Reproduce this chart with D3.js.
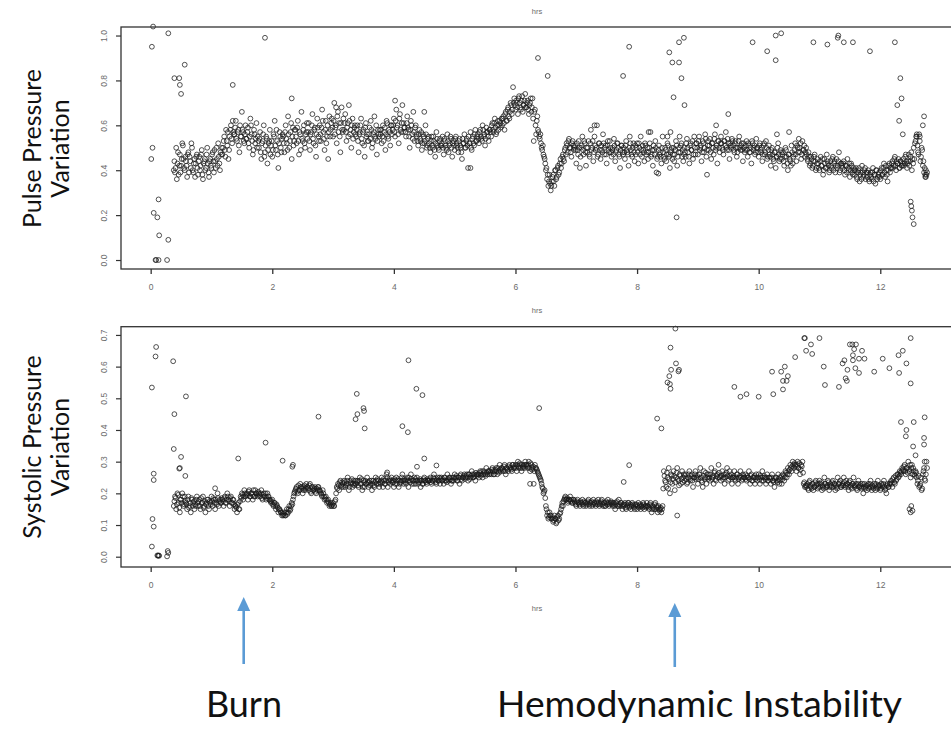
<!DOCTYPE html>
<html><head><meta charset="utf-8">
<script src="https://cdn.jsdelivr.net/npm/d3@7"></script>
<style>body{margin:0;background:#fff}svg{display:block}</style>
</head><body><svg id="c" width="951" height="736"></svg>
<script>
// ---------- data ----------
const xTickVals = [0, 2, 4, 6, 8, 10, 12];
const ppvTickVals = [0, 0.2, 0.4, 0.6, 0.8, 1.0];
const spvTickVals = [0, 0.1, 0.2, 0.3, 0.4, 0.5, 0.6, 0.7];
const sampleStep = 0.02; // hrs between consecutive samples inside a row

// Pulse pressure variation: [start hr, consecutive samples]
const ppvRows = [
[0.38,[.40,.39,.50,.43,.38,.47,.42,.52,.45,.40]],
[0.58,[.44,.37,.48,.46,.41,.50,.39,.45,.43,.47]],
[0.78,[.38,.46,.42,.49,.36,.44,.40,.47,.43,.37]],
[0.98,[.45,.41,.48,.39,.44,.50,.42,.46,.40,.47]],
[1.18,[.47,.53,.49,.58,.51,.45,.55,.60,.52,.57]],
[1.38,[.56,.62,.53,.58,.48,.55,.66,.57,.52,.60]],
[1.58,[.54,.59,.50,.63,.56,.47,.58,.52,.61,.55]],
[1.78,[.50,.57,.45,.53,.60,.48,.55,.43,.52,.58]],
[1.98,[.51,.46,.56,.62,.49,.53,.41,.57,.50,.54]],
[2.18,[.55,.48,.60,.52,.64,.50,.57,.45,.59,.53]],
[2.38,[.58,.52,.62,.47,.56,.66,.53,.60,.50,.57]],
[2.58,[.54,.61,.49,.57,.65,.52,.59,.46,.63,.55]],
[2.78,[.60,.53,.67,.57,.49,.62,.55,.45,.64,.58]],
[2.98,[.63,.55,.70,.59,.52,.66,.61,.48,.68,.57]],
[3.18,[.58,.65,.53,.61,.69,.56,.50,.63,.57,.60]],
[3.38,[.55,.60,.48,.57,.63,.52,.58,.46,.61,.56]],
[3.58,[.53,.59,.62,.50,.56,.64,.54,.47,.58,.55]],
[3.78,[.56,.52,.60,.57,.49,.62,.55,.58,.51,.60]],
[3.98,[.58,.63,.55,.67,.60,.52,.65,.57,.69,.61]],
[4.18,[.59,.55,.64,.58,.50,.62,.56,.66,.53,.60]],
[4.38,[.55,.51,.58,.53,.49,.56,.52,.60,.50,.54]],
[4.58,[.52,.48,.55,.50,.53,.46,.57,.51,.49,.54]],
[4.78,[.51,.55,.47,.53,.50,.56,.48,.52,.54,.46]],
[4.98,[.53,.49,.55,.51,.48,.54,.50,.45,.52,.56]],
[5.18,[.50,.54,.41,.52,.57,.49,.55,.51,.58,.53]],
[5.38,[.56,.52,.58,.54,.60,.55,.51,.59,.57,.53]],
[5.58,[.58,.55,.61,.57,.63,.56,.60,.58,.62,.59]],
[5.78,[.60,.64,.58,.66,.62,.68,.63,.70,.65,.77]],
[5.98,[.72,.67,.70,.65,.73,.68,.71,.66,.69,.74]],
[6.18,[.68,.71,.65,.70,.66,.72,.53,.67,.56,.64]],
[6.38,[.57,.54,.52,.49,.47,.45,.40,.36,.33,.38]],
[6.58,[.31,.35,.38,.33,.40,.37,.42,.39,.45,.43]],
[6.78,[.47,.44,.50,.52,.48,.54,.50,.46,.53,.49]],
[6.98,[.51,.43,.49,.53,.41,.50,.55,.47,.52,.42]],
[7.18,[.48,.53,.46,.58,.50,.44,.55,.49,.60,.47]],
[7.38,[.52,.45,.49,.56,.47,.51,.43,.53,.48,.50]],
[7.58,[.46,.50,.54,.44,.49,.52,.47,.41,.51,.48]],
[7.78,[.50,.45,.53,.48,.42,.55,.49,.46,.52,.44]],
[7.98,[.47,.52,.43,.50,.55,.46,.49,.44,.51,.48]],
[8.18,[.45,.50,.57,.47,.42,.49,.53,.39,.46,.51]],
[8.38,[.48,.43,.55,.46,.50,.44,.52,.47,.41,.49]],
[8.58,[.45,.50,.47,.53,.42,.48,.55,.51,.46,.44]],
[8.78,[.50,.46,.54,.48,.43,.52,.49,.45,.55,.47]],
[8.98,[.52,.47,.55,.50,.44,.53,.48,.56,.46,.51]],
[9.18,[.49,.54,.45,.52,.47,.56,.50,.43,.53,.48]],
[9.38,[.55,.50,.47,.53,.57,.49,.52,.45,.51,.54]],
[9.58,[.51,.48,.53,.46,.50,.55,.49,.52,.44,.50]],
[9.78,[.49,.53,.46,.51,.48,.43,.52,.50,.47,.54]],
[9.98,[.50,.46,.52,.48,.44,.51,.47,.53,.45,.49]],
[10.18,[.47,.42,.50,.45,.48,.41,.46,.52,.44,.49]],
[10.38,[.45,.48,.42,.50,.46,.40,.47,.44,.51,.43]],
[10.58,[.47,.52,.44,.50,.54,.48,.45,.53,.49,.46]],
[10.78,[.50,.45,.48,.42,.46,.41,.44,.47,.40,.43]],
[10.98,[.43,.40,.46,.42,.38,.45,.41,.47,.43,.39]],
[11.18,[.44,.41,.46,.43,.39,.45,.42,.48,.40,.43]],
[11.38,[.41,.44,.38,.42,.45,.40,.37,.43,.39,.41]],
[11.58,[.38,.41,.36,.40,.35,.39,.42,.37,.40,.36]],
[11.78,[.37,.40,.35,.39,.36,.41,.38,.34,.40,.37]],
[11.98,[.39,.36,.41,.38,.43,.37,.40,.35,.42,.39]],
[12.18,[.41,.44,.42,.46,.40,.43,.45,.41,.44,.42]],
[12.38,[.45,.43,.47,.41,.44,.42,.46,.40,.43,.45]],
[12.58,[.53,.55,.48,.56,.44,.50,.42,.39,.37,.38]],
// interleaved samples
[0.39,[.44,.41,.36,.48,.42,.39,.45,.51,.41,.46]],
[0.59,[.42,.47,.39,.44,.52,.40,.43,.37,.46,.41]],
[0.79,[.44,.40,.47,.38,.43,.45,.41,.50,.39,.44]],
[0.99,[.42,.47,.44,.49,.41,.45,.52,.43,.48,.50]],
[1.19,[.50,.55,.46,.53,.57,.49,.58,.54,.62,.56]],
[1.39,[.59,.54,.57,.51,.60,.55,.58,.53,.56,.54]],
[1.59,[.57,.52,.55,.60,.53,.49,.56,.54,.50,.53]],
[1.79,[.54,.48,.52,.56,.46,.51,.54,.49,.53,.47]],
[1.99,[.53,.49,.55,.51,.58,.47,.52,.55,.48,.56]],
[2.19,[.52,.57,.54,.49,.56,.53,.61,.55,.51,.58]],
[2.39,[.55,.59,.53,.57,.49,.54,.58,.52,.56,.61]],
[2.59,[.57,.53,.56,.60,.54,.58,.51,.56,.59,.53]],
[2.79,[.56,.59,.62,.54,.58,.52,.60,.57,.55,.61]],
[2.99,[.59,.62,.56,.60,.64,.57,.55,.61,.58,.63]],
[3.19,[.61,.57,.59,.55,.62,.58,.60,.54,.59,.56]],
[3.39,[.58,.53,.56,.60,.54,.57,.51,.59,.55,.53]],
[3.59,[.56,.54,.58,.52,.57,.55,.60,.53,.56,.58]],
[3.79,[.58,.55,.53,.59,.56,.61,.54,.57,.60,.56]],
[3.99,[.60,.57,.62,.59,.56,.63,.58,.61,.57,.59]],
[4.19,[.57,.61,.59,.55,.58,.60,.54,.57,.59,.56]],
[4.39,[.53,.56,.54,.57,.52,.55,.53,.56,.51,.55]],
[4.59,[.50,.53,.51,.55,.49,.52,.54,.50,.53,.51]],
[4.79,[.52,.50,.54,.51,.49,.53,.51,.55,.50,.52]],
[4.99,[.51,.54,.52,.50,.53,.51,.48,.54,.52,.50]],
[5.19,[.53,.51,.55,.52,.50,.54,.52,.56,.53,.55]],
[5.39,[.54,.57,.55,.53,.58,.56,.54,.57,.55,.58]],
[5.59,[.57,.60,.58,.61,.59,.57,.62,.60,.61,.63]],
[5.79,[.63,.61,.65,.62,.67,.64,.66,.69,.67,.70]],
[5.99,[.69,.71,.68,.72,.70,.67,.73,.69,.71,.68]],
[6.19,[.70,.67,.69,.72,.68,.63,.66,.60,.62,.58]],
[6.39,[.55,.56,.50,.51,.46,.43,.41,.38,.35,.34]],
[6.59,[.33,.37,.35,.40,.36,.41,.38,.43,.41,.46]],
[6.79,[.45,.49,.47,.51,.53,.50,.48,.52,.51,.50]],
[6.99,[.49,.52,.47,.50,.46,.51,.49,.53,.48,.50]],
[7.19,[.50,.47,.52,.49,.53,.48,.51,.50,.46,.52]],
[7.39,[.49,.51,.48,.52,.50,.47,.51,.49,.53,.48]],
[7.59,[.49,.47,.51,.48,.52,.50,.46,.49,.51,.47]],
[7.79,[.48,.51,.49,.47,.50,.52,.47,.50,.48,.51]],
[7.99,[.50,.48,.52,.47,.49,.51,.48,.52,.47,.50]],
[8.19,[.48,.52,.46,.49,.51,.47,.50,.45,.49,.47]],
[8.39,[.46,.50,.48,.45,.49,.47,.51,.46,.48,.50]],
[8.59,[.47,.44,.49,.51,.46,.50,.48,.52,.49,.47]],
[8.79,[.48,.52,.50,.46,.51,.49,.53,.47,.50,.52]],
[8.99,[.50,.53,.49,.51,.48,.52,.50,.54,.49,.53]],
[9.19,[.51,.48,.52,.50,.54,.49,.51,.53,.50,.52]],
[9.39,[.52,.49,.53,.51,.50,.54,.49,.52,.50,.53]],
[9.59,[.49,.52,.50,.48,.53,.50,.51,.49,.52,.48]],
[9.79,[.51,.49,.52,.48,.50,.53,.49,.51,.48,.50]],
[9.99,[.48,.51,.49,.50,.47,.52,.48,.50,.46,.51]],
[10.19,[.46,.49,.47,.44,.48,.46,.50,.47,.45,.48]],
[10.39,[.47,.44,.46,.49,.43,.47,.45,.42,.48,.46]],
[10.59,[.49,.47,.51,.48,.50,.52,.47,.49,.51,.48]],
[10.79,[.47,.44,.46,.43,.45,.42,.46,.44,.41,.45]],
[10.99,[.41,.44,.42,.45,.40,.43,.41,.44,.42,.40]],
[11.19,[.42,.45,.40,.44,.42,.41,.44,.39,.43,.42]],
[11.39,[.43,.40,.42,.39,.41,.43,.40,.42,.38,.40]],
[11.59,[.40,.37,.39,.41,.38,.36,.39,.38,.41,.39]],
[11.79,[.39,.36,.38,.37,.39,.35,.38,.40,.36,.38]],
[11.99,[.37,.40,.38,.41,.39,.42,.38,.40,.43,.41]],
[12.19,[.43,.41,.45,.42,.44,.43,.41,.44,.42,.43]],
[12.39,[.42,.46,.44,.43,.47,.44,.48,.45,.50,.52]],
[12.59,[.55,.51,.47,.53,.46,.49,.44,.41,.40,.39]]
];
// isolated PPV readings [hr, value]
const ppvOutliers = [
[0.02,.95],[0.04,1.04],[0.29,1.01],[0.03,.50],[0.01,.45],[0.05,.21],[0.13,.27],[0.11,.19],
[0.14,.11],[0.08,0],[0.09,0],[0.13,0],[0.27,0],[0.29,.09],[0.39,.81],[0.47,.81],[0.48,.78],
[0.50,.74],[0.56,.87],[1.35,.78],[1.88,.99],[2.32,.72],[3.05,.68],[4.02,.71],[4.5,.66],[5.26,.41],
[6.37,.90],[6.53,.82],[7.3,.60],[7.77,.82],[7.87,.95],[8.19,.57],[8.35,.385],
[8.53,.925],[8.58,.88],[8.6,.725],[8.69,.88],[8.73,.81],[8.69,.97],[8.77,.99],[8.78,.69],[8.65,.19],
[8.5,.55],[8.55,.57],[9.15,.38],[9.3,.60],[9.5,.65],[10.3,.56],[10.5,.57],
[9.9,.97],[10.14,.93],[10.28,1.0],[10.37,1.01],[10.28,.89],[10.9,.97],[11.13,.96],[11.3,.99],
[11.31,1.0],[11.4,.97],[11.55,.97],[11.83,.93],[12.24,.97],
[12.33,.81],[12.35,.72],[12.28,.69],[12.31,.62],[12.37,.56],[12.5,.26],[12.52,.22],[12.53,.19],
[12.55,.16],[12.51,.24],[12.72,.64],[12.70,.60],[12.6,.56],[12.65,.55],[12.74,.38],[12.75,.37]
];

// Systolic pressure variation: [start hr, consecutive samples]
const spvRows = [
[0.38,[.16,.19,.15,.20,.17,.14,.18,.20,.16,.19]],
[0.58,[.17,.15,.19,.16,.14,.18,.17,.15,.16,.19]],
[0.78,[.16,.18,.15,.17,.19,.16,.14,.17,.18,.15]],
[0.98,[.17,.19,.16,.18,.15,.17,.20,.16,.18,.17]],
[1.18,[.18,.16,.19,.17,.20,.18,.16,.19,.17,.18]],
[1.38,[.15,.16,.14,.17,.15,.19,.20,.18,.21,.19]],
[1.58,[.20,.18,.21,.19,.20,.18,.19,.21,.20,.19]],
[1.78,[.20,.19,.21,.18,.20,.19,.18,.20,.19,.18]],
[1.98,[.17,.18,.16,.17,.15,.16,.14,.15,.14,.13]],
[2.18,[.13,.14,.13,.15,.14,.16,.15,.17,.18,.20]],
[2.38,[.21,.22,.20,.21,.23,.22,.20,.22,.21,.23]],
[2.58,[.22,.21,.23,.20,.22,.21,.22,.20,.21,.22]],
[2.78,[.21,.20,.19,.20,.18,.19,.17,.18,.16,.17]],
[2.98,[.16,.17,.16,.18,.22,.23,.21,.24,.22,.23]],
[3.18,[.24,.22,.23,.25,.21,.24,.23,.22,.24,.23]],
[3.38,[.23,.24,.22,.25,.23,.21,.24,.22,.23,.25]],
[3.58,[.22,.24,.23,.21,.24,.22,.25,.23,.24,.22]],
[3.78,[.23,.25,.22,.24,.23,.26,.22,.24,.23,.25]],
[3.98,[.24,.22,.23,.25,.24,.22,.23,.24,.26,.23]],
[4.18,[.24,.23,.25,.22,.24,.26,.23,.24,.25,.23]],
[4.38,[.25,.23,.24,.22,.24,.23,.25,.24,.23,.24]],
[4.58,[.24,.25,.23,.24,.26,.24,.23,.25,.24,.23]],
[4.78,[.25,.24,.23,.25,.24,.26,.24,.25,.23,.24]],
[4.98,[.24,.26,.25,.24,.25,.23,.26,.24,.25,.26]],
[5.18,[.25,.26,.24,.26,.25,.27,.25,.26,.24,.26]],
[5.38,[.26,.25,.27,.26,.25,.27,.26,.28,.26,.27]],
[5.58,[.27,.26,.28,.26,.27,.28,.26,.27,.29,.27]],
[5.78,[.28,.27,.29,.26,.28,.27,.29,.28,.27,.29]],
[5.98,[.28,.29,.27,.30,.28,.29,.27,.28,.29,.30]],
[6.18,[.29,.28,.30,.27,.29,.28,.23,.29,.28,.27]],
[6.38,[.26,.25,.24,.22,.20,.21,.16,.13,.12,.14]],
[6.58,[.13,.12,.11,.13,.12,.11,.13,.12,.14,.16]],
[6.78,[.16,.18,.19,.18,.17,.18,.19,.18,.17,.18]],
[6.98,[.17,.16,.18,.17,.16,.17,.18,.16,.17,.16]],
[7.18,[.17,.18,.16,.17,.16,.18,.17,.16,.17,.18]],
[7.38,[.16,.17,.18,.16,.17,.16,.17,.18,.16,.17]],
[7.58,[.17,.16,.17,.15,.17,.16,.18,.16,.17,.15]],
[7.78,[.16,.17,.15,.16,.17,.16,.15,.17,.16,.15]],
[7.98,[.16,.15,.17,.16,.15,.16,.17,.15,.16,.17]],
[8.18,[.16,.15,.17,.14,.16,.15,.17,.16,.14,.15]],
[8.38,[.15,.14,.16,.27,.24,.22,.25,.28,.20,.26]],
[8.58,[.23,.27,.21,.25,.28,.24,.26,.23,.27,.25]],
[8.78,[.24,.26,.23,.25,.27,.24,.26,.22,.25,.27]],
[8.98,[.25,.23,.26,.28,.24,.22,.27,.25,.23,.26]],
[9.18,[.26,.24,.28,.25,.23,.27,.24,.26,.29,.25]],
[9.38,[.24,.27,.25,.23,.26,.28,.24,.27,.25,.23]],
[9.58,[.25,.27,.24,.26,.23,.25,.27,.24,.26,.25]],
[9.78,[.26,.24,.25,.27,.23,.26,.24,.25,.23,.26]],
[9.98,[.24,.26,.23,.25,.27,.24,.25,.23,.26,.24]],
[10.18,[.25,.23,.26,.24,.22,.25,.24,.26,.23,.25]],
[10.38,[.23,.26,.24,.27,.25,.28,.26,.29,.27,.30]],
[10.58,[.28,.29,.27,.30,.28,.26,.29,.30,.23,.22]],
[10.78,[.22,.23,.21,.24,.22,.23,.21,.22,.24,.23]],
[10.98,[.22,.24,.23,.21,.22,.25,.23,.22,.24,.21]],
[11.18,[.23,.22,.24,.23,.21,.22,.25,.23,.24,.22]],
[11.38,[.23,.25,.22,.24,.23,.21,.24,.22,.23,.25]],
[11.58,[.22,.23,.21,.24,.22,.23,.22,.20,.23,.22]],
[11.78,[.21,.23,.22,.24,.21,.22,.23,.21,.22,.24]],
[11.98,[.22,.21,.23,.22,.24,.21,.20,.23,.22,.23]],
[12.18,[.24,.22,.25,.23,.24,.26,.25,.27,.26,.28]],
[12.38,[.27,.29,.26,.28,.30,.27,.25,.29,.28,.26]],
[12.58,[.27,.25,.24,.22,.23,.21,.26,.28,.24,.30]],
// interleaved samples
[0.39,[.175,.185,.165,.195,.155,.18,.17,.19,.165,.175]],
[0.59,[.165,.18,.155,.17,.185,.16,.175,.165,.18,.17]],
[0.79,[.175,.16,.185,.17,.155,.175,.165,.18,.16,.175]],
[0.99,[.165,.175,.185,.17,.18,.165,.185,.175,.17,.185]],
[1.19,[.175,.185,.17,.18,.19,.175,.185,.17,.18,.165]],
[1.39,[.16,.155,.165,.15,.175,.185,.195,.19,.2,.195]],
[1.59,[.195,.205,.19,.2,.195,.21,.19,.2,.195,.205]],
[1.79,[.195,.2,.185,.195,.19,.2,.185,.19,.18,.175]],
[1.99,[.175,.165,.17,.16,.165,.155,.15,.145,.14,.135]],
[2.19,[.135,.13,.14,.135,.15,.145,.16,.165,.19,.205]],
[2.39,[.215,.205,.225,.21,.22,.215,.21,.225,.215,.22]],
[2.59,[.215,.225,.205,.22,.21,.215,.205,.215,.22,.21]],
[2.79,[.205,.195,.21,.19,.185,.18,.175,.17,.165,.16]],
[2.99,[.165,.16,.175,.2,.215,.225,.235,.225,.235,.22]],
[3.19,[.235,.225,.24,.23,.22,.235,.245,.23,.225,.24]],
[3.39,[.235,.225,.24,.23,.245,.22,.235,.24,.23,.235]],
[3.59,[.235,.225,.24,.23,.225,.235,.24,.245,.23,.235]],
[3.79,[.24,.235,.245,.23,.24,.25,.235,.245,.24,.235]],
[3.99,[.235,.245,.24,.23,.245,.24,.235,.25,.24,.245]],
[4.19,[.235,.245,.24,.25,.235,.245,.24,.23,.245,.24]],
[4.39,[.24,.235,.245,.24,.23,.245,.24,.235,.245,.24]],
[4.59,[.245,.235,.24,.25,.245,.235,.245,.24,.25,.245]],
[4.79,[.24,.245,.25,.24,.235,.245,.25,.245,.24,.25]],
[4.99,[.25,.245,.255,.24,.25,.255,.245,.25,.255,.245]],
[5.19,[.255,.25,.26,.245,.255,.26,.25,.255,.265,.255]],
[5.39,[.26,.265,.255,.27,.26,.265,.255,.265,.27,.26]],
[5.59,[.265,.275,.27,.26,.275,.27,.28,.265,.275,.28]],
[5.79,[.275,.285,.27,.28,.275,.285,.28,.275,.29,.28]],
[5.99,[.285,.28,.29,.285,.295,.28,.29,.285,.28,.29]],
[6.19,[.285,.29,.28,.295,.275,.285,.27,.28,.275,.265]],
[6.39,[.255,.245,.23,.215,.205,.185,.15,.14,.125,.13]],
[6.59,[.12,.125,.115,.12,.105,.125,.115,.135,.15,.17]],
[6.79,[.175,.185,.18,.185,.175,.18,.175,.17,.18,.175]],
[6.99,[.165,.175,.17,.165,.175,.17,.165,.175,.17,.165]],
[7.19,[.175,.165,.17,.175,.165,.17,.165,.175,.165,.17]],
[7.39,[.165,.175,.165,.17,.16,.175,.165,.17,.165,.175]],
[7.59,[.165,.17,.16,.165,.175,.16,.165,.17,.16,.165]],
[7.79,[.165,.155,.165,.17,.155,.165,.16,.165,.155,.165]],
[7.99,[.165,.16,.155,.165,.16,.155,.165,.16,.155,.16]],
[8.19,[.155,.165,.16,.15,.155,.165,.15,.155,.16,.145]],
[8.39,[.155,.15,.215,.255,.235,.265,.215,.245,.235,.255]],
[8.59,[.245,.255,.235,.265,.245,.225,.255,.245,.235,.26]],
[8.79,[.255,.245,.235,.26,.245,.255,.24,.25,.26,.245]],
[8.99,[.255,.245,.26,.25,.235,.255,.245,.265,.25,.245]],
[9.19,[.25,.26,.245,.255,.265,.245,.255,.25,.265,.255]],
[9.39,[.255,.245,.26,.25,.265,.255,.245,.255,.26,.25]],
[9.59,[.255,.245,.25,.26,.245,.255,.25,.245,.255,.25]],
[9.79,[.245,.255,.25,.245,.255,.24,.25,.255,.245,.25]],
[9.99,[.25,.245,.255,.24,.25,.255,.245,.25,.24,.25]],
[10.19,[.245,.25,.24,.235,.245,.25,.235,.245,.24,.255]],
[10.39,[.245,.255,.25,.265,.26,.27,.275,.28,.285,.29]],
[10.59,[.295,.285,.29,.28,.295,.275,.285,.265,.235,.225]],
[10.79,[.225,.215,.235,.225,.215,.23,.22,.235,.225,.215]],
[10.99,[.23,.22,.235,.225,.215,.23,.22,.225,.235,.22]],
[11.19,[.225,.235,.22,.23,.225,.215,.23,.235,.22,.225]],
[11.39,[.225,.235,.225,.23,.22,.235,.225,.215,.23,.225]],
[11.59,[.225,.215,.23,.22,.225,.215,.23,.22,.215,.225]],
[11.79,[.225,.215,.23,.22,.225,.215,.225,.23,.215,.225]],
[11.99,[.225,.215,.225,.23,.22,.215,.225,.22,.23,.235]],
[12.19,[.23,.245,.235,.255,.245,.26,.255,.265,.27,.275]],
[12.39,[.285,.27,.28,.265,.275,.29,.28,.26,.27,.255]],
[12.59,[.265,.23,.255,.225,.25,.215,.27,.245,.26,.28]]
];
// isolated SPV readings [hr, value]
const spvOutliers = [
[0.02,.534],[0.09,.662],[0.08,.632],[0.05,.262],[0.05,.242],[0.03,.119],[0.05,.095],[0.02,.032],
[0.11,.004],[0.12,.003],[0.13,.004],[0.14,.003],[0.27,.001],[0.28,.018],[0.29,.012],
[0.37,.617],[0.39,.45],[0.38,.34],[0.50,.315],[0.47,.278],[0.48,.28],[0.57,.255],[0.58,.506],
[1.06,.216],[1.44,.31],[1.89,.36],[2.17,.303],[2.33,.284],[2.34,.29],[2.76,.442],
[3.39,.514],[3.37,.434],[3.4,.45],[3.5,.469],[3.51,.46],[3.52,.405],[3.89,.266],[4.14,.412],
[4.23,.393],[4.24,.62],[4.37,.53],[4.47,.51],[4.5,.31],[4.38,.284],[4.7,.288],
[6.24,.23],[6.39,.469],[7.78,.236],[7.87,.289],[8.33,.436],[8.4,.405],[8.66,.13],
[8.63,.72],[8.55,.66],[8.64,.61],[8.56,.59],[8.69,.59],[8.68,.585],[8.53,.57],[8.5,.55],
[8.54,.545],[8.55,.53],
[9.6,.536],[9.7,.505],[9.8,.513],[10.0,.505],[10.24,.513],[10.22,.584],[10.37,.584],[10.4,.555],
[10.4,.528],[10.43,.6],[10.46,.555],[10.48,.57],[10.6,.63],[10.75,.69],[10.76,.69],[10.78,.65],
[10.86,.67],[10.88,.64],[11.0,.69],[11.07,.6],[11.09,.542],[11.32,.536],[11.38,.61],[11.41,.62],
[11.43,.563],[11.45,.555],[11.46,.59],[11.5,.67],[11.54,.67],[11.55,.636],[11.55,.62],[11.57,.655],
[11.6,.67],[11.59,.595],[11.65,.625],[11.65,.58],[11.7,.65],[11.74,.625],[11.9,.584],[12.04,.625],
[12.15,.595],[12.3,.636],[12.37,.65],[12.31,.58],[12.43,.61],[12.5,.69],[12.5,.547],
[12.34,.425],[12.42,.38],[12.43,.4],[12.55,.425],[12.54,.348],[12.58,.32],[12.73,.44],[12.72,.375],
[12.72,.354],[12.73,.30],[12.48,.15],[12.5,.14],[12.53,.145],[12.51,.16]
];

const panelTitles = [["Pulse Pressure", "Variation"], ["Systolic Pressure", "Variation"]];
const annotations = [{label: "Burn", hr: 1.53}, {label: "Hemodynamic Instability", hr: 8.62}];

// ---------- drawing ----------
const svg = d3.select("#c");
const left = 121, right = 953;
const x = d3.scaleLinear().domain([-0.488, 13.196]).range([left, right]);

function expand(rows, outl) {
  const pts = [];
  rows.forEach(([h0, vals]) => vals.forEach((v, i) => pts.push([h0 + i * sampleStep, v])));
  return pts.concat(outl);
}

const panels = [
  {top: 27, bottom: 269, dom: [-0.04, 1.038], ticks: ppvTickVals, pts: expand(ppvRows, ppvOutliers), titleY: 148.5, hrsY: 313},
  {top: 326.7, bottom: 567, dom: [-0.0325, 0.726], ticks: spvTickVals, pts: expand(spvRows, spvOutliers), titleY: 447, hrsY: 611}
];

const tickColor = "#6b6b6b";
panels.forEach((p, k) => {
  const y = d3.scaleLinear().domain(p.dom).range([p.bottom, p.top]);
  const g = svg.append("g");
  // points
  g.append("g").selectAll("circle").data(p.pts).join("circle")
    .attr("cx", d => x(d[0])).attr("cy", d => y(d[1])).attr("r", 2.4)
    .attr("fill", "none").attr("stroke", "#1a1a1a").attr("stroke-width", 1.0).attr("stroke-opacity", 0.75);
  // frame
  g.append("rect").attr("x", left).attr("y", p.top).attr("width", right - left).attr("height", p.bottom - p.top)
    .attr("fill", "none").attr("stroke", "#333").attr("stroke-width", 1.3);
  // x axis
  const xa = g.append("g").attr("transform", `translate(0,${p.bottom})`)
    .call(d3.axisBottom(x).tickValues(xTickVals).tickSize(5).tickPadding(10).tickFormat(d3.format("d")));
  xa.select(".domain").remove();
  xa.selectAll("line").attr("stroke", "#333").attr("stroke-width", 1.3);
  xa.selectAll("text").attr("fill", tickColor).attr("font-family", "Liberation Sans, Arial, sans-serif").attr("font-size", 8.5);
  // y axis
  const ya = g.append("g").attr("transform", `translate(${left},0)`)
    .call(d3.axisLeft(y).tickValues(p.ticks).tickSize(5).tickFormat(d3.format(".1f")));
  ya.select(".domain").remove();
  ya.selectAll("line").attr("stroke", "#333").attr("stroke-width", 1.2);
  ya.selectAll("text").attr("fill", tickColor).attr("font-family", "Liberation Sans, Arial, sans-serif")
    .attr("font-size", 8.5).attr("text-anchor", "middle").attr("x", 0).attr("y", 0).attr("dy", "0.35em")
    .attr("transform", "translate(-17,0) rotate(-90)");
  // hrs label
  svg.append("text").attr("x", (left + right) / 2).attr("y", p.hrsY).attr("text-anchor", "middle")
    .attr("font-family", "Liberation Sans, Arial, sans-serif").attr("font-size", 7.5).attr("fill", tickColor).text("hrs");
  // panel title
  panelTitles[k].forEach((t, j) => {
    svg.append("text").attr("transform", `translate(${41 + j * 28},${p.titleY}) rotate(-90)`)
      .attr("text-anchor", "middle").attr("font-family", "Lato, 'Open Sans', sans-serif").attr("font-size", 25)
      .attr("fill", "#111").text(t);
  });
});
// leftover "hrs" of the panel above (cropped)
svg.append("text").attr("x", (left + right) / 2).attr("y", 14).attr("text-anchor", "middle")
  .attr("font-family", "Liberation Sans, Arial, sans-serif").attr("font-size", 7.5).attr("fill", tickColor).text("hrs");

// annotations
const blue = "#5b9bd5";
const arrowTop = [597, 603];
annotations.forEach((a, i) => {
  const ax = x(a.hr);
  const t = arrowTop[i];
  svg.append("line").attr("x1", ax).attr("x2", ax).attr("y1", t + 12).attr("y2", 664 + i * 3)
    .attr("stroke", blue).attr("stroke-width", 2.6);
  svg.append("path").attr("d", `M${ax},${t} L${ax - 6.5},${t + 14} L${ax + 6.5},${t + 14} Z`).attr("fill", blue);
});
svg.append("text").attr("x", 244).attr("y", 717).attr("text-anchor", "middle")
  .attr("font-family", "Lato, 'Open Sans', sans-serif").attr("font-size", 36).attr("fill", "#111")
  .attr("textLength", 76).attr("lengthAdjust", "spacingAndGlyphs").text(annotations[0].label);
svg.append("text").attr("x", 699.5).attr("y", 717).attr("text-anchor", "middle")
  .attr("font-family", "Lato, 'Open Sans', sans-serif").attr("font-size", 36).attr("fill", "#111")
  .attr("textLength", 405).attr("lengthAdjust", "spacingAndGlyphs").text(annotations[1].label);
</script></body></html>
